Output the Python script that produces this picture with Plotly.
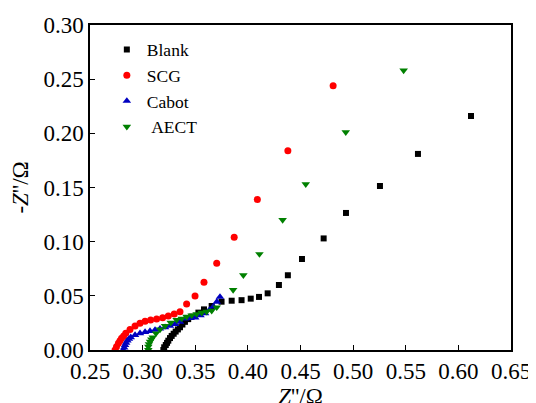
import plotly.graph_objects as go

# ---- data ----
blank_x = [0.3197, 0.3205, 0.3220, 0.3232, 0.3244, 0.3260, 0.3276, 0.3295, 0.3314, 0.3335,
           0.3355, 0.3378, 0.3402, 0.3433, 0.3466, 0.3530, 0.3583, 0.3656, 0.3750, 0.3846,
           0.3940, 0.4027, 0.4106, 0.4188, 0.4295, 0.4380, 0.4514, 0.4720, 0.4932, 0.5255,
           0.5616, 0.6120]
blank_y = [0.0000, 0.0025, 0.0046, 0.0066, 0.0086, 0.0110, 0.0130, 0.0150, 0.0170, 0.0190,
           0.0210, 0.0235, 0.0260, 0.0285, 0.0308, 0.0345, 0.0375, 0.0406, 0.0446, 0.0455,
           0.0460, 0.0474, 0.0490, 0.0523, 0.0600, 0.0690, 0.0840, 0.1030, 0.1265, 0.1514,
           0.1810, 0.2160]

scg_x = [0.2738, 0.2752, 0.2770, 0.2785, 0.2800, 0.2820, 0.2840, 0.2880, 0.2928, 0.2975,
         0.3023, 0.3076, 0.3133, 0.3190, 0.3244, 0.3300, 0.3355, 0.3418, 0.3498, 0.3583,
         0.3704, 0.3870, 0.4090, 0.4380, 0.4810]
scg_y = [0.0000, 0.0030, 0.0062, 0.0085, 0.0108, 0.0130, 0.0154, 0.0190, 0.0222, 0.0246,
         0.0265, 0.0277, 0.0286, 0.0298, 0.0314, 0.0332, 0.0354, 0.0425, 0.0499, 0.0625,
         0.0800, 0.1040, 0.1390, 0.1840, 0.2440]

cabot_x = [0.2817, 0.2825, 0.2833, 0.2843, 0.2855, 0.2870, 0.2887, 0.2928, 0.2975, 0.3023,
           0.3070, 0.3118, 0.3165, 0.3213, 0.3260, 0.3308, 0.3355, 0.3403, 0.3450, 0.3500,
           0.3550, 0.3593, 0.3635, 0.3672, 0.3705, 0.3735]
cabot_y = [0.0000, 0.0023, 0.0046, 0.0066, 0.0086, 0.0102, 0.0117, 0.0138, 0.0154, 0.0166,
           0.0175, 0.0185, 0.0197, 0.0210, 0.0222, 0.0240, 0.0260, 0.0290, 0.0295, 0.0300,
           0.0320, 0.0339, 0.0370, 0.0400, 0.0445, 0.0490]

aect_x = [0.3054, 0.3054, 0.3060, 0.3070, 0.3083, 0.3096, 0.3127, 0.3165, 0.3213, 0.3267,
          0.3323, 0.3371, 0.3418, 0.3466, 0.3513, 0.3561, 0.3608, 0.3656, 0.3704, 0.3860,
          0.3957, 0.4110, 0.4330, 0.4550, 0.4930, 0.5480]
aect_y = [0.0000, 0.0030, 0.0055, 0.0077, 0.0097, 0.0117, 0.0154, 0.0190, 0.0222, 0.0252,
          0.0277, 0.0290, 0.0308, 0.0320, 0.0332, 0.0345, 0.0354, 0.0363, 0.0394, 0.0554,
          0.0690, 0.0886, 0.1200, 0.1530, 0.2010, 0.2580]

series_names = ["Blank", "SCG", "Cabot", "\u00a0AECT"]
x_ticks = [0.25, 0.30, 0.35, 0.40, 0.45, 0.50, 0.55, 0.60, 0.65]
y_ticks = [0.00, 0.05, 0.10, 0.15, 0.20, 0.25, 0.30]

FONT = "Liberation Serif"

fig = go.Figure()
specs = [
    (blank_x, blank_y, "square", 6, "#000000"),
    (scg_x, scg_y, "circle", 7, "#FF0000"),
    (cabot_x, cabot_y, "triangle-up", 7.5, "#0000C0"),
    (aect_x, aect_y, "triangle-down", 7.5, "#008000"),
]
for name, (xs, ys, sym, sz, col) in zip(series_names, specs):
    fig.add_trace(go.Scatter(x=xs, y=ys, mode="markers", name=name,
                             marker=dict(symbol=sym, size=sz, color=col, line=dict(width=0))))

axis_common = dict(
    showline=True, mirror=True, linecolor="black", linewidth=1.5,
    ticks="inside", ticklen=5, tickwidth=1.2, tickcolor="black",
    minor=dict(ticks="inside", ticklen=3, tickwidth=1.2, tickcolor="black", nticks=2),
    showgrid=False, zeroline=False, tickformat=".2f",
    tickfont=dict(family=FONT, size=23, color="black"),
)

fig.update_xaxes(range=[0.25, 0.65], tickvals=x_ticks, **axis_common,
                 title=dict(text="<i>Z</i>''/Ω", font=dict(family=FONT, size=23, color="black"), standoff=4))
fig.update_yaxes(range=[0, 0.30], tickvals=y_ticks, **axis_common,
                 title=dict(text="-<i>Z</i>''/Ω", font=dict(family=FONT, size=23, color="black"), standoff=8))

fig.update_layout(
    width=536, height=403,
    margin=dict(l=82, r=33, t=17, b=61, autoexpand=False),
    paper_bgcolor="white", plot_bgcolor="white",
    showlegend=True,
    legend=dict(x=0.04, y=0.98, xanchor="left", yanchor="top",
                font=dict(family=FONT, size=17.5, color="black"),
                bgcolor="rgba(0,0,0,0)", tracegroupgap=0, itemwidth=30),
)

fig.write_html("out.html")
